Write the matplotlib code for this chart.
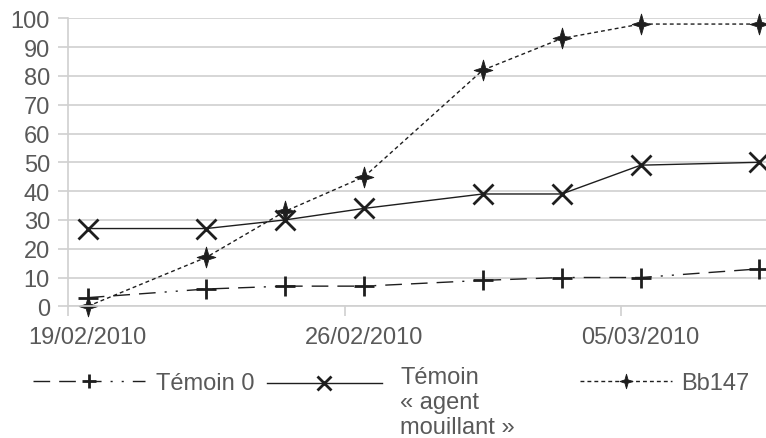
"""Courbes de mortalité - Témoin 0 / agent mouillant / Bb147"""

import numpy as np
import matplotlib
matplotlib.use("Agg")
import matplotlib.pyplot as plt
import matplotlib.dates as mdates
from matplotlib.path import Path
from matplotlib.transforms import Affine2D
from matplotlib.legend_handler import HandlerLine2D

# Data
dates = np.array(["2010-02-19", "2010-02-22", "2010-02-24", "2010-02-26",
                  "2010-03-01", "2010-03-03", "2010-03-05", "2010-03-08"],
                 dtype="datetime64[D]")
temoin0 = [3, 6, 7, 7, 9, 10, 10, 13]
agent = [27, 27, 30, 34, 39, 39, 49, 50]
bb147 = [0, 17, 33, 45, 82, 93, 98, 98]
tick_dates = np.array(["2010-02-19", "2010-02-26", "2010-03-05"], dtype="datetime64[D]")
labels = ["Témoin 0", "Témoin\n« agent\nmouillant »", "Bb147"]

TXT = "#595959"
GRID = "#d0d0d0"
INK = "#1e1e1e"
FS = 17

plt.rcParams['font.family'] = ['Liberation Sans', 'DejaVu Sans']

# 4-pointed star marker
star = Path([(0, 1), (0.22, 0.22), (0.9, 0), (0.22, -0.22), (0, -1),
             (-0.22, -0.22), (-0.9, 0), (-0.22, 0.22), (0, 1)],
            [Path.MOVETO] + [Path.LINETO] * 7 + [Path.CLOSEPOLY])


class ShiftedHandler(HandlerLine2D):
    """Line handler drawn a few pixels up"""
    def __init__(self, dy=0, **kw):
        super().__init__(**kw)
        self.dy = dy

    def create_artists(self, legend, orig_handle, xdescent, ydescent,
                       width, height, fontsize, trans):
        trans = trans + Affine2D().translate(0, self.dy)
        return super().create_artists(legend, orig_handle, xdescent, ydescent,
                                      width, height, fontsize, trans)


fig = plt.figure(figsize=(7.66, 4.39), dpi=100)
W, H = 766, 439
ax = fig.add_axes([68 / W, 1 - 307.3 / H, 1 - 68 / W, (307.3 - 19.3) / H])

x = mdates.date2num(dates) + 0.5   # points sit in the middle of the day

l0, = ax.plot(x, temoin0, color=INK, lw=1.0,
              dashes=(12, 6.5, 12, 6.5, 12, 6.5, 1.5, 6.5, 1.5, 6.5),
              marker="+", ms=14, mew=2.0, clip_on=False)
l1, = ax.plot(x, agent, color=INK, lw=1.0, marker="x", ms=14, mew=2.0, clip_on=False)
l2, = ax.plot(x, bb147, color=INK, lw=1.0, dashes=(2.8, 2.2), marker=star,
              ms=15, mew=0.6, mfc=INK, mec=INK, clip_on=False)

x0 = mdates.date2num(tick_dates[0])
ax.set_xlim(x0, x0 + (W - 68) / 39.5)
ax.set_ylim(0, 100)
ax.set_yticks(np.arange(0, 101, 10))

# tick marks on day boundaries, labels centred on the day
ax.set_xticks(mdates.date2num(tick_dates))
ax.set_xticklabels([])
ax.set_xticks(mdates.date2num(tick_dates) + 0.5, minor=True)
ax.xaxis.set_minor_formatter(mdates.DateFormatter("%d/%m/%Y"))

ax.grid(axis="y", color=GRID, lw=1.2)
ax.set_axisbelow(True)
for side in ["top", "right"]:
    ax.spines[side].set_visible(False)
for side in ["left", "bottom"]:
    ax.spines[side].set_color(GRID)
    ax.spines[side].set_linewidth(1.2)
ax.tick_params(axis="both", colors=GRID, labelcolor=TXT, labelsize=FS,
               length=7, width=1.2)
ax.tick_params(axis="y", pad=6)
ax.tick_params(axis="x", which="minor", length=0, pad=14, labelsize=FS, labelcolor=TXT)

# Legend: three entries placed separately
common = dict(frameon=False, fontsize=FS, labelcolor=TXT, borderpad=0,
              borderaxespad=0, markerscale=0.7, loc="center left")
fig.legend([l0], [labels[0]], bbox_to_anchor=(33 / W, 1 - 384 / H),
           handlelength=4.75, handletextpad=0.45, **common)
fig.legend([l1], [labels[1]], bbox_to_anchor=(267 / W, 1 - 403 / H),
           handlelength=4.85, handletextpad=0.8,
           handler_map={l1: ShiftedHandler(dy=19)}, **common)
fig.legend([l2], [labels[2]], bbox_to_anchor=(580 / W, 1 - 384 / H),
           handlelength=3.9, handletextpad=0.4, **common)

fig.savefig("out.png", dpi=100)
